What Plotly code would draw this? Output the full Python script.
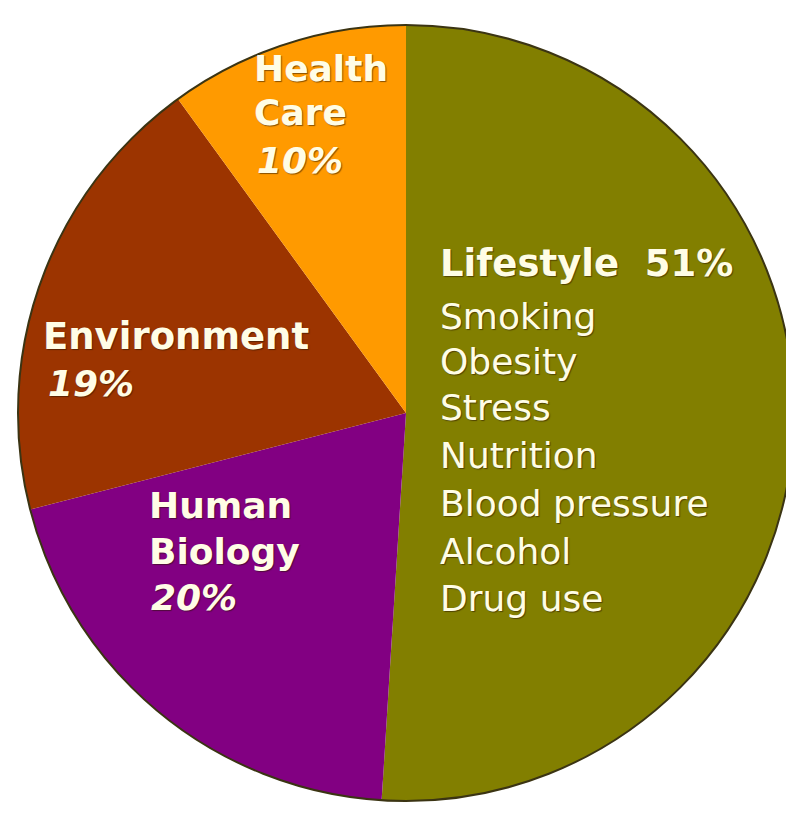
import plotly.graph_objects as go

# ---- data ----
labels = ["Lifestyle", "Human Biology", "Environment", "Health Care"]
values = [51, 20, 19, 10]
slice_colors = ["#827f00", "#820082", "#9c3400", "#ff9a00"]
lifestyle_factors = ["Smoking", "Obesity", "Stress", "Nutrition",
                     "Blood pressure", "Alcohol", "Drug use"]

# the page body has an 8px margin, so the figure is made 8px smaller
OFF = 8
W, H = 794 - OFF, 821 - OFF
TEXT_COL = "#fffde6"
SHADOW = "1px 1px 1px rgba(40,20,0,0.55)"


def px(x):
    return (x - OFF) / W


def py(y):
    return 1 - (y - OFF) / H


# pie geometry (screen centre and radius in pixels)
cx, cy, r = 406, 413, 388
dom_x = [max(0, px(cx - r)), min(1, px(cx + r))]
dom_y = [max(0, py(cy + r)), min(1, py(cy - r))]

fig = go.Figure()
fig.add_trace(go.Pie(
    labels=labels, values=values, sort=False, direction="clockwise",
    rotation=0, marker=dict(colors=slice_colors, line=dict(width=0)),
    textinfo="none", hoverinfo="label+percent",
    domain=dict(x=dom_x, y=dom_y),
))
# outline ring
fig.add_trace(go.Pie(
    labels=["outline"], values=[1], sort=False,
    marker=dict(colors=["rgba(0,0,0,0)"], line=dict(color="#3b3413", width=2)),
    textinfo="none", hoverinfo="skip",
    domain=dict(x=dom_x, y=dom_y),
))

ann = []


def add(text, x, y, size=36, bold=True):
    t = f"<b>{text}</b>" if bold else text
    ann.append(dict(
        text=t, x=px(x), y=py(y), xref="paper", yref="paper",
        xanchor="left", yanchor="middle", showarrow=False,
        font=dict(family="DejaVu Sans", size=size, color=TEXT_COL, shadow=SHADOW),
    ))


# Health Care
hc = labels[3].split()
add(hc[0], 252, 69)
add(hc[1], 252, 112)
add(f"<i>{values[3]}%</i>", 255, 160)
# Environment
add(labels[2], 41, 336, size=37)
add(f"<i>{values[2]}%</i>", 46, 383)
# Human Biology
hb = labels[1].split()
add(hb[0], 147, 505)
add(hb[1], 147, 551)
add(f"<i>{values[1]}%</i>", 149, 597)
# Lifestyle
add(f"{labels[0]}\u00a0\u00a0{values[0]}%", 438, 264, size=37)
ys = [316, 361, 407, 455, 503, 551, 598]
for name, y in zip(lifestyle_factors, ys):
    add(name, 438, y, size=36, bold=False)

fig.update_layout(
    width=W, height=H, margin=dict(l=0, r=0, t=0, b=0),
    paper_bgcolor="white", plot_bgcolor="white", showlegend=False,
    annotations=ann,
)
fig.write_html("out.html")
